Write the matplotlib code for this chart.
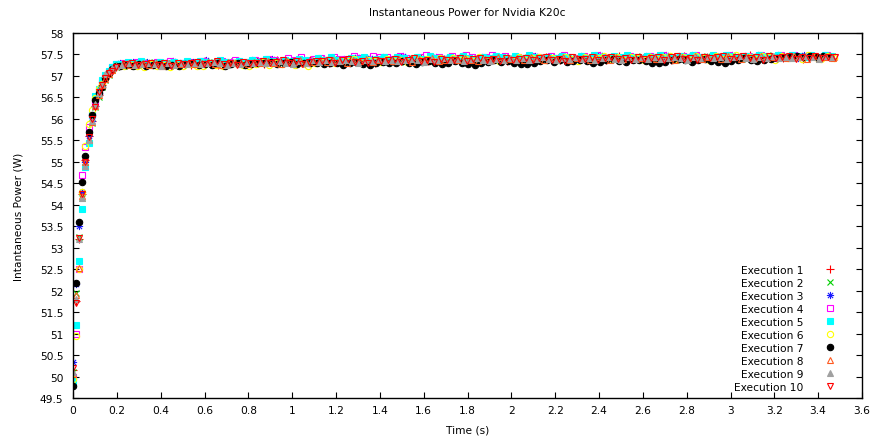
import matplotlib
matplotlib.use("Agg")
import matplotlib.pyplot as plt
import numpy as np
from matplotlib.path import Path
from matplotlib.ticker import FuncFormatter, MultipleLocator

plt.rcParams['font.family'] = ['DejaVu Sans']

# ---------------- data ----------------
# sample times during the ramp-up (s)
T_RISE = [0.000, 0.012, 0.027, 0.042, 0.057, 0.072, 0.087, 0.102, 0.117,
          0.132, 0.147, 0.162, 0.177, 0.195]
# sample times on the plateau (s)
T_PLATEAU = [0.21, 0.24, 0.27, 0.30, 0.33, 0.36, 0.39, 0.42, 0.45, 0.48,
             0.51, 0.54, 0.57, 0.60, 0.63, 0.66, 0.69, 0.72, 0.75, 0.78,
             0.81, 0.84, 0.87, 0.90, 0.93, 0.96, 0.99, 1.02, 1.05, 1.08,
             1.11, 1.14, 1.17, 1.20, 1.23, 1.26, 1.29, 1.32, 1.35, 1.38,
             1.41, 1.44, 1.47, 1.50, 1.53, 1.56, 1.59, 1.62, 1.65, 1.68,
             1.71, 1.74, 1.77, 1.80, 1.83, 1.86, 1.89, 1.92, 1.95, 1.98,
             2.01, 2.04, 2.07, 2.10, 2.13, 2.16, 2.19, 2.22, 2.25, 2.28,
             2.31, 2.34, 2.37, 2.40, 2.43, 2.46, 2.49, 2.52, 2.55, 2.58,
             2.61, 2.64, 2.67, 2.70, 2.73, 2.76, 2.79, 2.82, 2.85, 2.88,
             2.91, 2.94, 2.97, 3.00, 3.03, 3.06, 3.09, 3.12, 3.15, 3.18,
             3.21, 3.24, 3.27, 3.30, 3.33, 3.36, 3.39, 3.42, 3.45]
# per-execution sampling phase on the plateau (s)
plateau_phase = [0.000, 0.015, 0.006, 0.021, 0.009, 0.024, 0.003, 0.018, 0.012, 0.027]

labels = ["Execution 1", "Execution 2", "Execution 3", "Execution 4", "Execution 5",
          "Execution 6", "Execution 7", "Execution 8", "Execution 9", "Execution 10"]

rise1 = [50.15, 51.75, 53.20, 54.25, 55.05, 55.60, 55.95, 56.30, 56.55, 56.78, 56.92, 57.05, 57.14, 57.21]
rise2 = [50.10, 51.95, 53.25, 54.15, 54.95, 55.55, 55.90, 56.28, 56.52, 56.74, 56.90, 57.03, 57.13, 57.20]
rise3 = [50.35, 52.15, 53.50, 54.30, 55.00, 55.60, 55.95, 56.30, 56.58, 56.87, 56.95, 57.06, 57.15, 57.24]
rise4 = [50.00, 51.00, 52.50, 54.70, 55.35, 55.80, 56.10, 56.40, 56.65, 56.85, 56.98, 57.10, 57.20, 57.28]
rise5 = [49.90, 51.20, 52.70, 53.90, 54.88, 55.45, 56.10, 56.54, 56.70, 56.90, 57.02, 57.12, 57.20, 57.27]
rise6 = [49.95, 50.95, 52.50, 54.30, 55.38, 55.89, 56.20, 56.48, 56.70, 56.82, 56.95, 57.08, 57.15, 57.22]
rise7 = [49.77, 52.17, 53.60, 54.52, 55.13, 55.69, 56.08, 56.43, 56.60, 56.74, 56.95, 57.07, 57.16, 57.22]
rise8 = [50.05, 51.90, 52.52, 54.20, 55.00, 55.50, 55.92, 56.30, 56.55, 56.80, 56.93, 57.05, 57.15, 57.23]
rise9 = [50.10, 51.80, 53.20, 54.15, 54.90, 55.50, 55.95, 56.35, 56.60, 56.82, 57.05, 57.12, 57.18, 57.24]
rise10 = [50.20, 51.71, 53.23, 54.26, 55.00, 55.58, 56.00, 56.27, 56.62, 56.80, 56.95, 57.08, 57.12, 57.20]

plat1 = [57.24, 57.29, 57.26, 57.31, 57.23, 57.28, 57.30, 57.25, 57.29, 57.27,
         57.32, 57.26, 57.30, 57.34, 57.28, 57.25, 57.31, 57.29, 57.33, 57.27,
         57.30, 57.35, 57.28, 57.33, 57.36, 57.31, 57.29, 57.34, 57.30, 57.37,
         57.33, 57.38, 57.31, 57.36, 57.34, 57.39, 57.32, 57.37, 57.35, 57.30,
         57.39, 57.34, 57.41, 57.36, 57.33, 57.38, 57.42, 57.35, 57.39, 57.37,
         57.41, 57.36, 57.43, 57.38, 57.34, 57.40, 57.37, 57.42, 57.39, 57.35,
         57.42, 57.38, 57.44, 57.37, 57.41, 57.45, 57.39, 57.36, 57.42, 57.40,
         57.43, 57.38, 57.45, 57.40, 57.37, 57.42, 57.46, 57.39, 57.44, 57.41,
         57.44, 57.39, 57.46, 57.41, 57.38, 57.43, 57.47, 57.40, 57.45, 57.42,
         57.45, 57.40, 57.47, 57.42, 57.39, 57.44, 57.48, 57.41, 57.46, 57.43,
         57.46, 57.41, 57.47, 57.43, 57.40, 57.45, 57.42, 57.47, 57.44]
plat2 = [57.28, 57.23, 57.30, 57.26, 57.32, 57.25, 57.29, 57.31, 57.24, 57.28,
         57.27, 57.31, 57.28, 57.25, 57.33, 57.30, 57.27, 57.34, 57.29, 57.31,
         57.34, 57.29, 57.32, 57.37, 57.30, 57.35, 57.28, 57.33, 57.36, 57.31,
         57.36, 57.32, 57.39, 57.34, 57.30, 57.37, 57.35, 57.40, 57.33, 57.36,
         57.35, 57.40, 57.37, 57.33, 57.42, 57.38, 57.36, 57.41, 57.34, 57.39,
         57.37, 57.42, 57.39, 57.35, 57.43, 57.40, 57.36, 57.41, 57.38, 57.44,
         57.39, 57.43, 57.37, 57.42, 57.40, 57.36, 57.44, 57.41, 57.38, 57.45,
         57.40, 57.44, 57.38, 57.43, 57.41, 57.37, 57.45, 57.42, 57.39, 57.46,
         57.41, 57.45, 57.39, 57.44, 57.42, 57.38, 57.46, 57.43, 57.40, 57.47,
         57.42, 57.46, 57.40, 57.45, 57.43, 57.39, 57.47, 57.44, 57.41, 57.48,
         57.43, 57.47, 57.41, 57.45, 57.42, 57.46, 57.40, 57.44, 57.47]
plat3 = [57.30, 57.26, 57.32, 57.28, 57.33, 57.27, 57.31, 57.29, 57.34, 57.30,
         57.29, 57.33, 57.31, 57.36, 57.30, 57.34, 57.28, 57.32, 57.35, 57.31,
         57.37, 57.32, 57.35, 57.39, 57.33, 57.36, 57.31, 57.38, 57.34, 57.37,
         57.40, 57.35, 57.42, 57.36, 57.39, 57.34, 57.45, 57.38, 57.41, 57.36,
         57.44, 57.37, 57.41, 57.46, 57.38, 57.42, 57.36, 57.40, 57.45, 57.39,
         57.43, 57.38, 57.46, 57.41, 57.37, 57.44, 57.40, 57.47, 57.42, 57.39,
         57.45, 57.40, 57.43, 57.47, 57.39, 57.44, 57.41, 57.46, 57.42, 57.38,
         57.46, 57.41, 57.44, 57.48, 57.40, 57.45, 57.42, 57.47, 57.43, 57.39,
         57.47, 57.42, 57.45, 57.49, 57.41, 57.46, 57.43, 57.48, 57.44, 57.40,
         57.47, 57.43, 57.46, 57.49, 57.42, 57.47, 57.44, 57.48, 57.45, 57.41,
         57.48, 57.44, 57.47, 57.42, 57.49, 57.45, 57.43, 57.47, 57.44]
plat4 = [57.31, 57.27, 57.33, 57.29, 57.26, 57.32, 57.30, 57.34, 57.28, 57.31,
         57.33, 57.29, 57.35, 57.31, 57.28, 57.34, 57.32, 57.36, 57.30, 57.33,
         57.38, 57.34, 57.40, 57.36, 57.33, 57.41, 57.37, 57.43, 57.35, 57.39,
         57.42, 57.37, 57.44, 57.40, 57.36, 57.46, 57.41, 57.38, 57.47, 57.43,
         57.44, 57.39, 57.47, 57.42, 57.38, 57.45, 57.48, 57.41, 57.44, 57.40,
         57.46, 57.41, 57.48, 57.43, 57.39, 57.45, 57.49, 57.42, 57.46, 57.40,
         57.45, 57.41, 57.47, 57.43, 57.40, 57.46, 57.42, 57.48, 57.44, 57.41,
         57.46, 57.42, 57.48, 57.44, 57.40, 57.45, 57.42, 57.47, 57.43, 57.41,
         57.47, 57.43, 57.49, 57.45, 57.41, 57.46, 57.43, 57.48, 57.44, 57.42,
         57.47, 57.43, 57.49, 57.45, 57.42, 57.47, 57.44, 57.48, 57.45, 57.42,
         57.48, 57.44, 57.49, 57.45, 57.43, 57.47, 57.44, 57.48, 57.45]
plat5 = [57.28, 57.32, 57.30, 57.34, 57.27, 57.31, 57.33, 57.29, 57.32, 57.30,
         57.34, 57.30, 57.35, 57.32, 57.29, 57.36, 57.33, 57.31, 57.35, 57.32,
         57.37, 57.33, 57.39, 57.35, 57.32, 57.38, 57.34, 57.40, 57.36, 57.33,
         57.41, 57.36, 57.43, 57.38, 57.35, 57.42, 57.39, 57.45, 57.37, 57.40,
         57.43, 57.38, 57.45, 57.41, 57.37, 57.44, 57.40, 57.46, 57.42, 57.39,
         57.44, 57.40, 57.46, 57.42, 57.38, 57.45, 57.41, 57.47, 57.43, 57.39,
         57.46, 57.41, 57.48, 57.43, 57.40, 57.45, 57.42, 57.47, 57.44, 57.40,
         57.47, 57.42, 57.48, 57.44, 57.41, 57.46, 57.43, 57.49, 57.44, 57.41,
         57.47, 57.43, 57.49, 57.45, 57.42, 57.47, 57.44, 57.48, 57.45, 57.42,
         57.48, 57.44, 57.49, 57.46, 57.43, 57.47, 57.45, 57.49, 57.46, 57.43,
         57.48, 57.45, 57.49, 57.46, 57.44, 57.48, 57.45, 57.49, 57.46]
plat6 = [57.22, 57.26, 57.24, 57.20, 57.27, 57.23, 57.25, 57.21, 57.26, 57.24,
         57.28, 57.24, 57.22, 57.29, 57.26, 57.23, 57.27, 57.30, 57.25, 57.22,
         57.27, 57.32, 57.25, 57.30, 57.28, 57.33, 57.26, 57.29, 57.24, 57.31,
         57.33, 57.38, 57.31, 57.36, 57.34, 57.39, 57.30, 57.37, 57.35, 57.32,
         57.40, 57.35, 57.38, 57.33, 57.41, 57.36, 57.39, 57.34, 57.42, 57.37,
         57.41, 57.36, 57.39, 57.34, 57.43, 57.38, 57.40, 57.35, 57.42, 57.37,
         57.43, 57.37, 57.41, 57.45, 57.38, 57.42, 57.36, 57.44, 57.40, 57.35,
         57.44, 57.38, 57.42, 57.46, 57.39, 57.43, 57.37, 57.45, 57.41, 57.36,
         57.45, 57.39, 57.43, 57.47, 57.40, 57.44, 57.38, 57.46, 57.42, 57.37,
         57.46, 57.40, 57.44, 57.48, 57.41, 57.45, 57.39, 57.47, 57.43, 57.38,
         57.47, 57.41, 57.45, 57.39, 57.48, 57.43, 57.40, 57.46, 57.42]
plat7 = [57.23, 57.26, 57.24, 57.27, 57.22, 57.25, 57.28, 57.24, 57.26, 57.23,
         57.27, 57.29, 57.25, 57.28, 57.26, 57.30, 57.24, 57.27, 57.29, 57.26,
         57.28, 57.31, 57.29, 57.32, 57.27, 57.30, 57.33, 57.28, 57.31, 57.29,
         57.30, 57.27, 57.31, 57.29, 57.26, 57.30, 57.32, 57.28, 57.25, 57.29,
         57.33, 57.29, 57.31, 57.34, 57.30, 57.27, 57.32, 57.35, 57.30, 57.28,
         57.31, 57.34, 57.30, 57.27, 57.26, 57.29, 57.33, 57.36, 57.32, 57.34,
         57.30, 57.28, 57.27, 57.30, 57.34, 57.37, 57.33, 57.36, 57.32, 57.35,
         57.38, 57.34, 57.31, 57.33, 57.36, 57.39, 57.35, 57.32, 57.36, 57.38,
         57.34, 57.31, 57.30, 57.33, 57.37, 57.40, 57.36, 57.33, 57.37, 57.39,
         57.35, 57.32, 57.31, 57.34, 57.38, 57.41, 57.37, 57.34, 57.38, 57.40,
         57.42, 57.45, 57.43, 57.46, 57.44, 57.47, 57.45, 57.46, 57.44]
plat8 = [57.29, 57.25, 57.28, 57.31, 57.26, 57.29, 57.24, 57.30, 57.27, 57.28,
         57.31, 57.27, 57.30, 57.33, 57.28, 57.26, 57.32, 57.29, 57.31, 57.27,
         57.33, 57.30, 57.35, 57.31, 57.28, 57.34, 57.32, 57.36, 57.30, 57.33,
         57.36, 57.32, 57.38, 57.35, 57.31, 57.37, 57.34, 57.39, 57.33, 57.36,
         57.38, 57.34, 57.40, 57.37, 57.33, 57.39, 57.36, 57.41, 57.35, 57.38,
         57.39, 57.36, 57.42, 57.38, 57.35, 57.40, 57.37, 57.43, 57.36, 57.39,
         57.41, 57.37, 57.43, 57.40, 57.36, 57.42, 57.39, 57.44, 57.38, 57.41,
         57.42, 57.38, 57.44, 57.41, 57.37, 57.43, 57.40, 57.45, 57.39, 57.42,
         57.43, 57.39, 57.45, 57.42, 57.38, 57.44, 57.41, 57.46, 57.40, 57.43,
         57.44, 57.40, 57.46, 57.43, 57.39, 57.45, 57.42, 57.47, 57.41, 57.44,
         57.45, 57.41, 57.47, 57.44, 57.40, 57.46, 57.43, 57.45, 57.42]
plat9 = [57.26, 57.29, 57.25, 57.28, 57.30, 57.27, 57.24, 57.29, 57.26, 57.31,
         57.28, 57.31, 57.27, 57.30, 57.32, 57.29, 57.26, 57.31, 57.28, 57.33,
         57.30, 57.33, 57.29, 57.32, 57.35, 57.31, 57.28, 57.34, 57.31, 57.36,
         57.33, 57.36, 57.32, 57.35, 57.38, 57.34, 57.31, 57.37, 57.34, 57.39,
         57.35, 57.38, 57.34, 57.37, 57.40, 57.36, 57.33, 57.39, 57.36, 57.41,
         57.37, 57.40, 57.35, 57.39, 57.41, 57.38, 57.34, 57.40, 57.37, 57.42,
         57.38, 57.41, 57.37, 57.40, 57.43, 57.39, 57.36, 57.42, 57.39, 57.44,
         57.39, 57.42, 57.38, 57.41, 57.44, 57.40, 57.37, 57.43, 57.40, 57.45,
         57.40, 57.43, 57.39, 57.42, 57.45, 57.41, 57.38, 57.44, 57.41, 57.46,
         57.41, 57.44, 57.40, 57.43, 57.46, 57.42, 57.39, 57.45, 57.42, 57.47,
         57.42, 57.45, 57.41, 57.44, 57.47, 57.43, 57.40, 57.46, 57.43]
plat10 = [57.27, 57.30, 57.25, 57.28, 57.31, 57.26, 57.29, 57.24, 57.30, 57.27,
          57.29, 57.32, 57.27, 57.30, 57.34, 57.28, 57.31, 57.26, 57.33, 57.29,
          57.31, 57.35, 57.29, 57.33, 57.36, 57.30, 57.34, 57.28, 57.32, 57.35,
          57.34, 57.37, 57.31, 57.36, 57.39, 57.33, 57.35, 57.30, 57.38, 57.34,
          57.36, 57.40, 57.33, 57.38, 57.41, 57.35, 57.37, 57.32, 57.39, 57.36,
          57.38, 57.41, 57.35, 57.39, 57.42, 57.36, 57.40, 57.34, 57.41, 57.37,
          57.39, 57.42, 57.36, 57.41, 57.44, 57.38, 57.40, 57.35, 57.43, 57.39,
          57.40, 57.44, 57.37, 57.42, 57.45, 57.39, 57.41, 57.36, 57.44, 57.40,
          57.42, 57.45, 57.38, 57.43, 57.46, 57.40, 57.42, 57.37, 57.45, 57.41,
          57.43, 57.46, 57.39, 57.44, 57.47, 57.41, 57.43, 57.38, 57.46, 57.42,
          57.44, 57.47, 57.40, 57.45, 57.42, 57.46, 57.41, 57.43, 57.45]

rises = [rise1, rise2, rise3, rise4, rise5, rise6, rise7, rise8, rise9, rise10]
plateaus = [plat1, plat2, plat3, plat4, plat5, plat6, plat7, plat8, plat9, plat10]

# ---------------- styles ----------------
asterisk = Path([(-1, 0), (1, 0), (0, -1), (0, 1),
                 (-0.72, -0.72), (0.72, 0.72), (-0.72, 0.72), (0.72, -0.72)],
                [Path.MOVETO, Path.LINETO] * 4)

styles = [
    dict(marker='+', color='#ff0000', mfc='none', ms=5.5),
    dict(marker='x', color='#00d000', mfc='none', ms=4.2),
    dict(marker=asterisk, color='#1a1aff', mfc='none', ms=5.2),
    dict(marker='s', color='#ff00ff', mfc='none', ms=4.0),
    dict(marker='s', color='#00ffff', mfc='#00ffff', ms=4.0),
    dict(marker='o', color='#ffff00', mfc='none', ms=4.5),
    dict(marker='o', color='#000000', mfc='#000000', ms=4.6),
    dict(marker='^', color='#ff5a20', mfc='none', ms=4.6),
    dict(marker='^', color='#a0a0a0', mfc='#a0a0a0', ms=4.6),
    dict(marker='v', color='#ff0000', mfc='none', ms=4.9),
]

FS = 7.7
fig = plt.figure(figsize=(8.72, 4.39), dpi=100)
ax = fig.add_axes([73 / 872, 1 - 399 / 439, 789 / 872, 365 / 439])

for i in range(10):
    n = min(len(T_PLATEAU), len(plateaus[i]))
    t = np.concatenate([np.array(T_RISE), np.array(T_PLATEAU[:n]) + plateau_phase[i]])
    y = np.concatenate([np.array(rises[i]), np.array(plateaus[i][:n])])
    st = styles[i]
    ax.plot(t, y, linestyle='none', marker=st['marker'], markersize=st['ms'],
            markeredgecolor=st['color'], markerfacecolor=st['mfc'],
            markeredgewidth=0.8, label=labels[i], zorder=2 + i)

ax.set_xlim(0, 3.6)
ax.set_ylim(49.5, 58)
ax.xaxis.set_major_locator(MultipleLocator(0.2))
ax.yaxis.set_major_locator(MultipleLocator(0.5))
fmt = FuncFormatter(lambda v, p: '%g' % round(v, 3))
ax.xaxis.set_major_formatter(fmt)
ax.yaxis.set_major_formatter(fmt)
ax.tick_params(direction='in', length=4, width=0.8, top=True, right=True,
               labelsize=FS, colors='black')
ax.tick_params(axis='y', pad=7)
ax.tick_params(axis='x', pad=5)
for s in ax.spines.values():
    s.set_linewidth(1.0)
    s.set_zorder(20)

ax.set_title("Instantaneous Power for Nvidia K20c", fontsize=FS, pad=13)
ax.set_xlabel("Time (s)", fontsize=FS, labelpad=7)
ax.set_ylabel("Intantaneous Power (W)", fontsize=FS, labelpad=12)

leg = ax.legend(loc='lower right', bbox_to_anchor=(0.983, 0.0175), frameon=False,
                fontsize=FS, markerfirst=False, handlelength=3.4, handletextpad=0.8,
                labelspacing=0.28, borderpad=0, borderaxespad=0, numpoints=1)

fig.savefig("out.png", dpi=100)
